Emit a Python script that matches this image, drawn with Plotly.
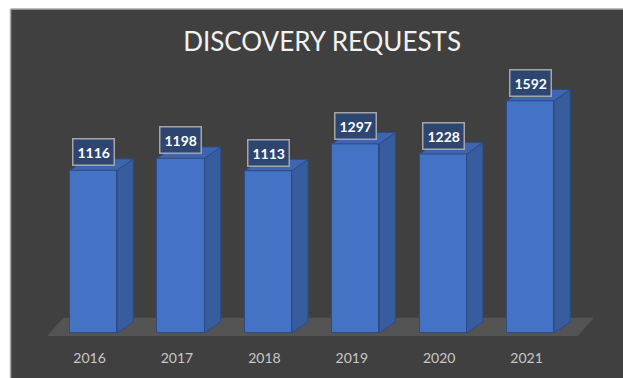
import plotly.graph_objects as go

# Data
years = ["2016", "2017", "2018", "2019", "2020", "2021"]
requests = [1116, 1198, 1113, 1297, 1228, 1592]

# 3D look: depth of each column in axis units
BAR_W = 0.54
DX = 0.185   # horizontal depth (category units)
DY = 78      # vertical depth (value units)

FRONT = "#4472C4"
SIDE = "#385D9E"
TOP = "#3E66AE"
EDGE = "#2B4C86"
BG = "#404040"

pos = list(range(len(years)))
fig = go.Figure()

# Front faces of the columns
fig.add_trace(go.Bar(
    x=pos, y=requests, width=BAR_W,
    marker=dict(color=FRONT, line=dict(color=EDGE, width=1)),
    hoverinfo="skip", showlegend=False,
))

# Side and top faces derived from each value
for p, v in zip(pos, requests):
    x0, x1 = p - BAR_W / 2, p + BAR_W / 2
    fig.add_trace(go.Scatter(
        x=[x1, x1 + DX, x1 + DX, x1, x1],
        y=[0, DY, v + DY, v, 0],
        fill="toself", fillcolor=SIDE, mode="lines",
        line=dict(color=EDGE, width=1), hoverinfo="skip", showlegend=False,
    ))
    fig.add_trace(go.Scatter(
        x=[x0, x1, x1 + DX, x0 + DX, x0],
        y=[v, v, v + DY, v + DY, v],
        fill="toself", fillcolor=TOP, mode="lines",
        line=dict(color=EDGE, width=1), hoverinfo="skip", showlegend=False,
    ))

# Value labels in boxes
for p, v in zip(pos, requests):
    fig.add_annotation(
        x=p, y=v, text=f"<b>{v}</b>", showarrow=False,
        yanchor="bottom", yshift=4,
        font=dict(family="Lato, sans-serif", size=14, color="white"),
        bgcolor="rgba(44,70,114,0.95)", bordercolor="#A6A6A6",
        borderwidth=1.5, borderpad=4,
    )

n = len(years)
shapes = [
    # floor under the columns
    dict(type="path", xref="x", yref="y", layer="below",
         path=(f"M {-BAR_W + 0.01},-20 L {n - 1 + BAR_W},-20 "
               f"L {n - 1 + BAR_W + DX},105 L {-BAR_W + 0.01 + DX},105 Z"),
         fillcolor="#555454", line=dict(width=0)),
    # white sheet margin around the chart object
    dict(type="rect", xref="paper", yref="paper", layer="below",
         x0=-0.2, x1=-0.0335, y0=-0.3, y1=1.3, fillcolor="white", line=dict(width=0)),
    dict(type="rect", xref="paper", yref="paper", layer="below",
         x0=-0.2, x1=1.2, y0=1.2245, y1=1.4, fillcolor="white", line=dict(width=0)),
    dict(type="line", xref="paper", yref="paper", layer="below",
         x0=-0.0335, x1=1.2, y0=1.2245, y1=1.2245, line=dict(color="#A8A8A8", width=1.5)),
    dict(type="line", xref="paper", yref="paper", layer="below",
         x0=-0.0335, x1=-0.0335, y0=-0.3, y1=1.2245, line=dict(color="#A8A8A8", width=1.5)),
]

fig.update_layout(
    width=623, height=378,
    margin=dict(l=30, r=13, t=70, b=33),
    paper_bgcolor=BG, plot_bgcolor=BG,
    shapes=shapes,
    title=dict(text="DISCOVERY REQUESTS", x=0.517, xanchor="center",
               y=0.888, yanchor="middle",
               font=dict(family="Lato, sans-serif", size=26, color="#F2F2F2")),
    xaxis=dict(range=[-0.7265, 5.9096], tickvals=[p - 0.045 for p in pos],
               ticktext=years, showgrid=False, zeroline=False, showline=False,
               ticks="", ticklabelstandoff=6,
               tickfont=dict(family="Lato, sans-serif", size=14, color="#C8C8C8"),
               fixedrange=True),
    yaxis=dict(range=[-61, 1803.4], visible=False, fixedrange=True),
    bargap=0,
)

fig.write_html("out.html")
